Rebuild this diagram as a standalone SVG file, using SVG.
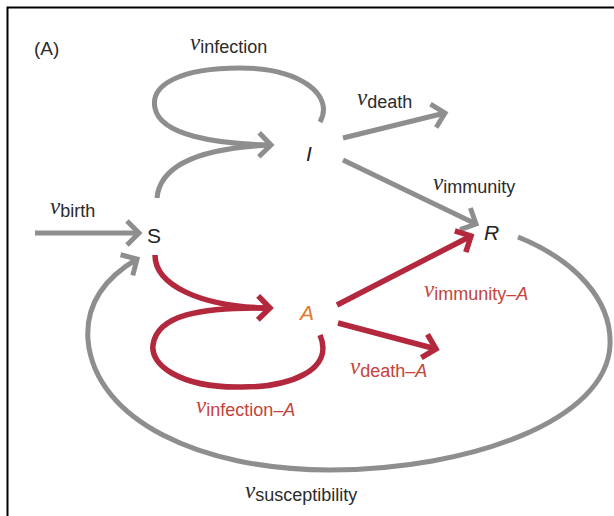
<svg xmlns="http://www.w3.org/2000/svg" width="614" height="516" viewBox="0 0 614 516">
<defs>
<style>
.g{fill:none;stroke:#8e8e8e;stroke-width:5}
.r{fill:none;stroke:#b3283c;stroke-width:5.5}
.lbl{font-family:"Liberation Sans",Arial,sans-serif;font-size:18px;fill:#2b2b2b}
.rl{fill:#c4443a}
.v{font-family:"Liberation Serif","Times New Roman",serif;font-style:italic;font-size:23px}
.node{font-family:"Liberation Sans",Arial,sans-serif;font-size:21px;fill:#222}
.it{font-style:italic}
</style>
<marker id="ag" markerUnits="userSpaceOnUse" viewBox="-16 -16 20 32" refX="0" refY="0" markerWidth="20" markerHeight="32" orient="auto">
<path d="M-12,-12 L0,0 L-12,12" fill="none" stroke="#8e8e8e" stroke-width="5"/>
</marker>
<marker id="ar" markerUnits="userSpaceOnUse" viewBox="-16 -16 20 32" refX="0" refY="0" markerWidth="20" markerHeight="32" orient="auto">
<path d="M-12,-12 L0,0 L-12,12" fill="none" stroke="#b3283c" stroke-width="5.5"/>
</marker>
</defs>
<rect width="614" height="516" fill="#fff"/>
<path d="M7.5 516 V7.5 H614" fill="none" stroke="#000" stroke-width="2"/>
<text class="lbl" x="34" y="55" style="font-size:19px">(A)</text>
<g id="connectors">
<path class="g" d="M320 122 C335 95 300 68 240 68 C180 68 150 85 155 108 C160 135 215 144 271 145" marker-end="url(#ag)"/>
<path class="g" d="M157 198 C160 165 200 148 271 145"/>
<path class="g" d="M343 138 L445 113" marker-end="url(#ag)"/>
<path class="g" d="M343 160 L476 224" marker-end="url(#ag)"/>
<path class="g" d="M35 233 L139 233" marker-end="url(#ag)"/>
<path class="g" d="M518 237 C575 260 612 300 610 345 C607 420 470 470 330 470 C200 470 95 420 88 340 C85 300 110 275 137 259" marker-end="url(#ag)"/>
<path class="r" d="M155 255 C155 285 200 307 270 308" marker-end="url(#ar)"/>
<path class="r" d="M320 335 C335 370 290 388 237 387 C180 387 150 365 153 345 C157 315 200 307 268 308"/>
<path class="r" d="M337 305 L471 236" marker-end="url(#ar)"/>
<path class="r" d="M338 323 L436 349" marker-end="url(#ar)"/>
</g>
<g id="node-S"><text class="node" x="147" y="243">S</text></g>
<g id="node-I"><text class="node it" x="306" y="161">I</text></g>
<g id="node-R"><text class="node it" x="484" y="240">R</text></g>
<g id="node-A"><text class="node it" x="300" y="320" style="fill:#e07a2e">A</text></g>
<g id="labels">
<text class="lbl" x="190" y="53"><tspan class="v" dy="-3">v</tspan><tspan dy="3">infection</tspan></text>
<text class="lbl" x="357" y="108"><tspan class="v" dy="-3">v</tspan><tspan dy="3">death</tspan></text>
<text class="lbl" x="433" y="193"><tspan class="v" dy="-3">v</tspan><tspan dy="3">immunity</tspan></text>
<text class="lbl" x="50" y="217"><tspan class="v" dy="-3">v</tspan><tspan dy="3">birth</tspan></text>
<text class="lbl rl" x="424" y="300"><tspan class="v" dy="-3">v</tspan><tspan dy="3">immunity–</tspan><tspan class="it">A</tspan></text>
<text class="lbl rl" x="350" y="377"><tspan class="v" dy="-3">v</tspan><tspan dy="3">death–</tspan><tspan class="it">A</tspan></text>
<text class="lbl rl" x="196" y="416"><tspan class="v" dy="-3">v</tspan><tspan dy="3">infection–</tspan><tspan class="it">A</tspan></text>
<text class="lbl" x="245" y="501"><tspan class="v" dy="-3">v</tspan><tspan dy="3">susceptibility</tspan></text>
</g>
</svg>
